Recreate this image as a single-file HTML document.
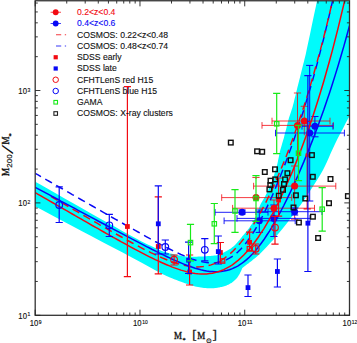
<!DOCTYPE html>
<html><head><meta charset="utf-8"><title>M200/M* vs M*</title>
<style>html,body{margin:0;padding:0;background:#fff}svg{display:block}</style></head>
<body>
<svg width="357" height="343" viewBox="0 0 357 343">
<defs><clipPath id="c"><rect x="35.20" y="0.75" width="314.30" height="314.55"/></clipPath></defs>
<rect width="357" height="343" fill="#fff"/>
<g clip-path="url(#c)">
<path d="M35.2,181.7 L40.3,184.6 L47.3,188.6 L55.6,193.3 L64.6,198.4 L73.6,203.5 L82.0,208.3 L90.2,212.9 L98.6,217.7 L107.1,222.5 L115.4,227.1 L123.1,231.4 L130.0,235.2 L136.1,238.5 L141.6,241.4 L146.6,243.9 L151.1,246.1 L155.2,248.1 L159.0,249.8 L162.4,251.2 L165.2,252.1 L167.6,252.8 L169.8,253.4 L171.9,253.8 L174.0,254.3 L176.1,254.8 L178.0,255.2 L179.8,255.6 L181.6,255.9 L183.3,256.2 L185.0,256.4 L186.7,256.6 L188.4,256.7 L190.1,256.7 L191.7,256.7 L193.3,256.7 L195.0,256.7 L196.7,256.7 L198.4,256.6 L200.1,256.6 L201.8,256.5 L203.4,256.4 L205.0,256.3 L206.5,256.2 L207.9,256.1 L209.2,256.0 L210.6,255.9 L211.8,255.8 L213.0,255.7 L214.1,255.6 L215.2,255.5 L216.1,255.4 L217.1,255.3 L218.0,255.1 L219.0,254.8 L220.0,254.4 L220.9,254.0 L221.9,253.5 L222.8,253.0 L223.8,252.5 L224.7,252.0 L225.6,251.5 L226.5,251.1 L227.4,250.6 L228.3,250.1 L229.1,249.6 L230.0,249.0 L230.9,248.4 L231.7,247.8 L232.6,247.1 L233.4,246.4 L234.2,245.7 L235.0,245.0 L235.7,244.3 L236.4,243.6 L237.0,242.8 L237.7,242.1 L238.3,241.3 L239.0,240.5 L239.7,239.7 L240.4,238.8 L241.1,238.0 L241.8,237.1 L242.5,236.1 L243.3,235.2 L244.1,234.2 L245.0,233.2 L245.8,232.2 L246.7,231.2 L247.6,230.1 L248.4,229.0 L249.2,227.9 L250.0,226.8 L250.8,225.6 L251.6,224.5 L252.4,223.3 L253.1,222.0 L253.8,220.7 L254.5,219.3 L255.1,217.8 L255.8,216.4 L256.4,214.9 L257.0,213.5 L257.6,212.0 L258.1,210.6 L258.6,209.1 L259.2,207.6 L259.7,206.2 L260.2,205.0 L260.7,203.9 L261.2,203.0 L261.7,202.2 L262.2,201.4 L262.7,200.5 L263.3,199.5 L263.9,198.4 L264.6,197.2 L265.3,195.9 L266.0,194.6 L266.7,193.3 L267.3,192.0 L267.9,190.7 L268.5,189.3 L269.1,187.9 L269.6,186.5 L270.1,185.2 L270.6,184.0 L271.1,182.9 L271.5,181.9 L271.9,180.9 L272.3,179.9 L272.6,179.0 L273.0,178.0 L273.4,177.0 L273.7,176.1 L274.0,175.2 L274.3,174.2 L274.6,173.2 L275.0,172.0 L275.4,170.7 L275.8,169.4 L276.2,168.0 L276.7,166.5 L277.1,164.9 L277.5,163.3 L277.9,161.6 L278.2,159.8 L278.6,157.9 L279.0,155.9 L279.4,154.0 L279.8,152.0 L280.3,150.0 L280.9,147.9 L281.5,145.9 L282.1,143.8 L282.7,141.8 L283.2,140.0 L283.7,138.4 L284.1,136.9 L284.4,135.5 L284.8,134.1 L285.2,132.6 L285.6,131.0 L286.1,129.2 L286.6,127.2 L287.1,125.1 L287.6,123.0 L288.1,121.0 L288.6,119.2 L289.1,117.5 L289.7,115.8 L290.2,114.2 L290.7,112.7 L291.2,111.3 L291.6,110.0 L291.9,109.0 L292.2,108.3 L292.4,107.6 L292.6,106.9 L292.8,106.0 L293.2,104.6 L293.7,102.7 L294.2,100.5 L294.8,98.1 L295.5,95.5 L296.1,92.7 L296.8,90.0 L297.5,87.1 L298.3,84.0 L299.1,80.8 L299.9,77.7 L300.6,74.7 L301.3,72.0 L301.9,69.6 L302.4,67.5 L302.9,65.5 L303.4,63.6 L303.9,61.8 L304.3,60.0 L304.6,58.7 L304.8,58.0 L305.0,57.3 L305.3,56.1 L305.8,53.9 L306.6,50.0 L308.0,43.5 L309.9,34.7 L311.9,24.9 L314.0,15.1 L315.8,6.8 L317.0,1.0 L349.5,1.0 L349.5,116.0 L347.9,119.1 L345.6,123.3 L343.0,128.4 L340.2,133.8 L337.4,139.1 L335.0,144.0 L332.9,148.5 L330.8,153.0 L328.9,157.5 L326.9,161.9 L325.0,166.0 L323.0,170.0 L320.9,173.8 L318.6,177.5 L316.4,181.1 L314.2,184.4 L312.3,187.4 L310.6,190.0 L309.3,192.1 L308.3,193.6 L307.6,194.8 L306.9,196.0 L306.0,197.2 L305.0,198.7 L303.7,200.6 L302.3,202.6 L300.8,204.7 L299.2,206.8 L297.7,209.0 L296.2,211.0 L294.7,213.0 L293.3,214.9 L291.8,216.8 L290.4,218.7 L288.9,220.6 L287.5,222.4 L286.1,224.2 L284.7,226.0 L283.3,227.8 L281.9,229.5 L280.4,231.3 L279.0,233.0 L277.5,234.7 L276.1,236.4 L274.6,238.2 L273.1,239.9 L271.6,241.6 L270.0,243.3 L268.4,245.1 L266.6,246.9 L264.9,248.8 L263.2,250.6 L261.5,252.3 L260.0,253.8 L258.6,255.1 L257.3,256.2 L256.1,257.3 L255.0,258.2 L253.8,259.1 L252.7,260.0 L251.6,260.9 L250.5,261.8 L249.4,262.6 L248.4,263.4 L247.4,264.1 L246.5,264.8 L245.6,265.5 L244.8,266.1 L244.0,266.7 L243.3,267.2 L242.7,267.7 L242.3,268.0 L242.3,268.0 L242.1,268.4 L241.9,268.9 L241.7,269.5 L241.4,270.2 L241.1,270.9 L240.8,271.5 L240.5,272.1 L240.2,272.7 L240.0,273.2 L239.7,273.8 L239.3,274.4 L239.0,275.0 L238.6,275.6 L238.2,276.2 L237.8,276.8 L237.4,277.4 L237.0,277.9 L236.5,278.5 L236.0,279.0 L235.5,279.6 L235.0,280.1 L234.4,280.6 L233.9,281.1 L233.3,281.6 L232.7,282.0 L232.1,282.5 L231.5,282.9 L230.8,283.3 L230.2,283.6 L229.5,284.0 L228.8,284.4 L228.1,284.7 L227.3,285.1 L226.6,285.4 L225.8,285.7 L225.0,286.0 L224.2,286.3 L223.4,286.5 L222.5,286.7 L221.6,286.9 L220.8,287.1 L220.0,287.3 L219.2,287.5 L218.5,287.6 L217.7,287.7 L217.0,287.8 L216.2,287.9 L215.5,288.0 L214.8,288.1 L214.2,288.2 L213.6,288.2 L213.0,288.3 L212.2,288.3 L211.2,288.3 L210.0,288.3 L208.6,288.2 L207.1,288.2 L205.6,288.1 L204.0,288.0 L202.5,287.8 L201.0,287.6 L199.6,287.3 L198.1,287.0 L196.6,286.7 L195.2,286.4 L193.7,286.0 L192.3,285.6 L191.0,285.2 L189.6,284.8 L188.2,284.3 L186.7,283.8 L185.0,283.2 L183.1,282.5 L181.0,281.8 L178.8,280.9 L176.5,280.1 L174.2,279.2 L172.0,278.3 L170.0,277.5 L168.3,276.7 L166.5,276.0 L164.5,275.1 L162.1,273.9 L159.0,272.3 L155.3,270.3 L151.2,268.1 L146.7,265.6 L141.7,262.8 L136.1,259.7 L130.0,256.4 L123.1,252.7 L115.4,248.7 L107.1,244.4 L98.6,239.9 L90.2,235.5 L82.0,231.2 L73.6,226.8 L64.6,222.0 L55.6,217.2 L47.3,212.8 L40.3,209.1 L35.2,206.4 Z" fill="#00fbfb"/>
<path d="M221.70,197.60 H291.70 M221.70,194.30 v6.60 M291.70,194.30 v6.60" stroke="#f20a12" stroke-width="1.00" fill="none" opacity="0.80"/>
<path d="M256.00,177.50 V179.00 M252.40,177.50 h7.20" stroke="#f20a12" stroke-width="1.00" fill="none" opacity="0.80"/>
<path d="M232.60,208.20 H314.50 M232.60,204.90 v6.60 M314.50,204.90 v6.60" stroke="#f20a12" stroke-width="1.00" fill="none" opacity="0.80"/>
<path d="M274.00,200.00 V216.00 M270.40,200.00 h7.20 M270.40,216.00 h7.20" stroke="#f20a12" stroke-width="1.00" fill="none" opacity="0.80"/>
<path d="M253.60,186.10 H335.80 M253.60,182.80 v6.60 M335.80,182.80 v6.60" stroke="#f20a12" stroke-width="1.00" fill="none" opacity="0.80"/>
<path d="M294.60,166.00 V219.20 M291.00,166.00 h7.20 M291.00,219.20 h7.20" stroke="#f20a12" stroke-width="1.00" fill="none" opacity="0.80"/>
<path d="M262.00,125.40 H333.30 M262.00,122.10 v6.60 M333.30,122.10 v6.60" stroke="#f20a12" stroke-width="1.00" fill="none" opacity="0.80"/>
<path d="M297.50,93.00 V158.30 M293.90,93.00 h7.20" stroke="#f20a12" stroke-width="1.00" fill="none" opacity="0.80"/>
<path d="M272.00,121.00 H330.00 M272.00,117.70 v6.60 M330.00,117.70 v6.60" stroke="#f20a12" stroke-width="1.00" fill="none" opacity="0.80"/>
<path d="M304.30,106.30 V135.20 M300.70,106.30 h7.20" stroke="#f20a12" stroke-width="1.00" fill="none" opacity="0.80"/>
<path d="M215.10,212.30 H268.00 M215.10,209.00 v6.60 M268.00,209.00 v6.60" stroke="#0808f6" stroke-width="1.00" fill="none" opacity="0.90"/>
<path d="M242.10,210.00 V214.00 M238.50,210.00 h7.20 M238.50,214.00 h7.20" stroke="#0808f6" stroke-width="1.00" fill="none"/>
<path d="M224.10,220.80 H295.20 M224.10,217.50 v6.60 M295.20,217.50 v6.60" stroke="#0808f6" stroke-width="1.00" fill="none" opacity="0.90"/>
<path d="M259.30,210.00 V232.40 M255.70,210.00 h7.20 M255.70,232.40 h7.20" stroke="#0808f6" stroke-width="1.00" fill="none"/>
<path d="M237.00,218.40 H310.00 M237.00,215.10 v6.60 M310.00,215.10 v6.60" stroke="#0808f6" stroke-width="1.00" fill="none" opacity="0.90"/>
<path d="M273.90,205.00 V236.50 M270.30,205.00 h7.20 M270.30,236.50 h7.20" stroke="#0808f6" stroke-width="1.00" fill="none"/>
<path d="M256.00,211.70 H322.00 M256.00,208.40 v6.60 M322.00,208.40 v6.60" stroke="#0808f6" stroke-width="1.00" fill="none" opacity="0.90"/>
<path d="M294.60,208.00 V215.00 M291.00,208.00 h7.20 M291.00,215.00 h7.20" stroke="#0808f6" stroke-width="1.00" fill="none"/>
<path d="M275.50,133.00 H344.40 M275.50,129.70 v6.60 M344.40,129.70 v6.60" stroke="#0808f6" stroke-width="1.00" fill="none" opacity="0.90"/>
<path d="M309.70,65.40 V201.00 M306.10,65.40 h7.20 M306.10,201.00 h7.20" stroke="#0808f6" stroke-width="1.00" fill="none"/>
<path d="M302.00,126.30 H333.00 M302.00,123.00 v6.60 M333.00,123.00 v6.60" stroke="#0808f6" stroke-width="1.00" fill="none" opacity="0.90"/>
<path d="M314.90,116.50 V136.80 M311.30,116.50 h7.20 M311.30,136.80 h7.20" stroke="#0808f6" stroke-width="1.00" fill="none"/>
<path d="M35.2,173.3 L38.1,174.9 L40.9,176.6 L43.8,178.2 L46.6,179.9 L49.5,181.5 L52.3,183.1 L55.2,184.8 L58.1,186.4 L60.9,188.0 L63.8,189.7 L66.6,191.3 L69.5,192.9 L72.3,194.6 L75.2,196.2 L78.1,197.9 L80.9,199.5 L83.8,201.1 L86.6,202.8 L89.5,204.4 L92.3,206.0 L95.2,207.7 L98.1,209.3 L100.9,210.9 L103.8,212.6 L106.6,214.2 L109.5,215.8 L112.3,217.5 L115.2,219.1 L118.1,220.7 L120.9,222.3 L123.8,224.0 L126.6,225.6 L129.5,227.2 L132.3,228.8 L135.2,230.4 L138.1,232.0 L140.9,233.6 L143.8,235.2 L146.6,236.8 L149.5,238.4 L152.3,239.9 L155.2,241.5 L158.1,243.0 L160.9,244.6 L163.8,246.1 L166.6,247.5 L169.5,249.0 L172.3,250.4 L175.2,251.8 L178.1,253.2 L180.9,254.5 L183.8,255.7 L186.6,256.9 L189.5,258.0 L192.4,259.1 L195.2,260.0 L198.1,260.8 L200.9,261.6 L203.8,262.1 L206.6,262.6 L209.5,262.8 L212.4,262.9 L215.2,262.8 L218.1,262.4 L220.9,261.8 L223.8,260.9 L226.6,259.7 L229.5,258.2 L232.4,256.4 L235.2,254.3 L238.1,251.8 L240.9,249.0 L243.8,245.8 L246.6,242.2 L249.5,238.3 L252.4,234.1 L255.2,229.5 L258.1,224.5 L260.9,219.3 L263.8,213.7 L266.6,207.9 L269.5,201.8 L272.4,195.4 L275.2,188.7 L278.1,181.9 L280.9,174.8 L283.8,167.4 L286.6,159.9 L289.5,152.1 L292.4,144.1 L295.2,135.9 L298.1,127.4 L300.9,118.7 L303.8,109.7 L306.6,100.4 L309.5,90.8 L312.4,81.0 L315.2,70.8 L318.1,60.2 L320.9,49.3 L323.8,38.1 L326.6,26.4 L329.5,14.2 L332.4,1.7 L335.2,-11.4 L338.1,-24.9 L340.9,-39.0 L343.8,-53.6 L346.6,-68.8 L349.5,-84.6" fill="none" stroke="#0808f6" stroke-width="1.45" stroke-dasharray="7.7,4.93" stroke-dashoffset="1"/>
<path d="M50.9,196.5 L53.6,198.1 L56.3,199.6 L59.1,201.2 L61.8,202.8 L64.5,204.4 L67.2,205.9 L69.9,207.5 L72.6,209.1 L75.3,210.7 L78.1,212.2 L80.8,213.8 L83.5,215.4 L86.2,216.9 L88.9,218.5 L91.6,220.1 L94.3,221.6 L97.1,223.2 L99.8,224.8 L102.5,226.3 L105.2,227.9 L107.9,229.4 L110.6,230.9 L113.3,232.5 L116.1,234.0 L118.8,235.5 L121.5,237.0 L124.2,238.6 L126.9,240.1 L129.6,241.5 L132.3,243.0 L135.1,244.5 L137.8,245.9 L140.5,247.4 L143.2,248.8 L145.9,250.2 L148.6,251.5 L151.3,252.9 L154.1,254.2 L156.8,255.4 L159.5,256.7 L162.2,257.9 L164.9,259.0 L167.6,260.1 L170.3,261.1 L173.1,262.1 L175.8,263.0 L178.5,263.9 L181.2,264.6 L183.9,265.3 L186.6,265.8 L189.3,266.3 L192.1,266.6 L194.8,266.8 L197.5,266.9 L200.2,266.8 L202.9,266.6 L205.6,266.2 L208.4,265.6 L211.1,264.9 L213.8,263.9 L216.5,262.8 L219.2,261.4 L221.9,259.8 L224.6,258.0 L227.4,256.0 L230.1,253.8 L232.8,251.3 L235.5,248.5 L238.2,245.6 L240.9,242.4 L243.6,239.0 L246.4,235.3 L249.1,231.4 L251.8,227.3 L254.5,222.9 L257.2,218.3 L259.9,213.5 L262.6,208.5 L265.4,203.3 L268.1,197.8 L270.8,192.2 L273.5,186.4 L276.2,180.3 L278.9,174.0 L281.6,167.6 L284.4,160.9 L287.1,154.0 L289.8,146.9 L292.5,139.6 L295.2,132.0 L297.9,124.2 L300.6,116.2 L303.4,107.9 L306.1,99.4 L308.8,90.6 L311.5,81.6 L314.2,72.2 L316.9,62.6 L319.6,52.6 L322.4,42.4 L325.1,31.7 L327.8,20.8 L330.5,9.5 L333.2,-2.2 L335.9,-14.3 L338.6,-26.8 L341.4,-39.8 L344.1,-53.1 L346.8,-67.0 L349.5,-81.3" fill="none" stroke="#f20a12" stroke-width="1.45" stroke-dasharray="7.7,4.8"/>
<path d="M35.2,187.3 L38.1,188.8 L40.9,190.3 L43.8,191.9 L46.6,193.4 L49.5,194.9 L52.3,196.5 L55.2,198.0 L58.1,199.5 L60.9,201.1 L63.8,202.6 L66.6,204.1 L69.5,205.7 L72.3,207.2 L75.2,208.7 L78.1,210.3 L80.9,211.8 L83.8,213.3 L86.6,214.8 L89.5,216.4 L92.3,217.9 L95.2,219.4 L98.1,221.0 L100.9,222.5 L103.8,224.0 L106.6,225.5 L109.5,227.1 L112.3,228.6 L115.2,230.1 L118.1,231.6 L120.9,233.1 L123.8,234.6 L126.6,236.1 L129.5,237.7 L132.3,239.2 L135.2,240.6 L138.1,242.1 L140.9,243.6 L143.8,245.1 L146.6,246.6 L149.5,248.0 L152.3,249.5 L155.2,250.9 L158.1,252.3 L160.9,253.8 L163.8,255.1 L166.6,256.5 L169.5,257.9 L172.3,259.2 L175.2,260.5 L178.1,261.7 L180.9,262.9 L183.8,264.1 L186.6,265.2 L189.5,266.3 L192.4,267.3 L195.2,268.2 L198.1,269.0 L200.9,269.8 L203.8,270.4 L206.6,271.0 L209.5,271.4 L212.4,271.6 L215.2,271.8 L218.1,271.7 L220.9,271.5 L223.8,271.1 L226.6,270.5 L229.5,269.7 L232.4,268.6 L235.2,267.3 L238.1,265.8 L240.9,264.0 L243.8,261.9 L246.6,259.6 L249.5,257.0 L252.4,254.1 L255.2,250.9 L258.1,247.4 L260.9,243.7 L263.8,239.8 L266.6,235.5 L269.5,231.1 L272.4,226.4 L275.2,221.5 L278.1,216.3 L280.9,211.0 L283.8,205.5 L286.6,199.8 L289.5,193.9 L292.4,187.8 L295.2,181.6 L298.1,175.2 L300.9,168.6 L303.8,161.9 L306.6,155.0 L309.5,147.9 L312.4,140.6 L315.2,133.2 L318.1,125.6 L320.9,117.7 L323.8,109.7 L326.6,101.4 L329.5,92.9 L332.4,84.1 L335.2,75.1 L338.1,65.8 L340.9,56.3 L343.8,46.4 L346.6,36.2 L349.5,25.7" fill="none" stroke="#0808f6" stroke-width="1.5"/>
<path d="M35.2,192.6 L38.1,194.3 L40.9,195.9 L43.8,197.6 L46.6,199.2 L49.5,200.9 L52.3,202.5 L55.2,204.2 L58.1,205.8 L60.9,207.4 L63.8,209.1 L66.6,210.7 L69.5,212.4 L72.3,214.0 L75.2,215.7 L78.1,217.3 L80.9,218.9 L83.8,220.6 L86.6,222.2 L89.5,223.8 L92.3,225.5 L95.2,227.1 L98.1,228.7 L100.9,230.3 L103.8,232.0 L106.6,233.6 L109.5,235.2 L112.3,236.8 L115.2,238.4 L118.1,240.0 L120.9,241.6 L123.8,243.1 L126.6,244.7 L129.5,246.3 L132.3,247.8 L135.2,249.4 L138.1,250.9 L140.9,252.4 L143.8,253.9 L146.6,255.3 L149.5,256.8 L152.3,258.2 L155.2,259.6 L158.1,260.9 L160.9,262.2 L163.8,263.5 L166.6,264.7 L169.5,265.9 L172.3,267.1 L175.2,268.1 L178.1,269.1 L180.9,270.1 L183.8,270.9 L186.6,271.7 L189.5,272.3 L192.4,272.9 L195.2,273.4 L198.1,273.7 L200.9,273.9 L203.8,273.9 L206.6,273.9 L209.5,273.6 L212.4,273.2 L215.2,272.6 L218.1,271.8 L220.9,270.8 L223.8,269.6 L226.6,268.2 L229.5,266.6 L232.4,264.8 L235.2,262.7 L238.1,260.4 L240.9,257.8 L243.8,255.0 L246.6,252.0 L249.5,248.7 L252.4,245.2 L255.2,241.5 L258.1,237.5 L260.9,233.2 L263.8,228.8 L266.6,224.1 L269.5,219.1 L272.4,214.0 L275.2,208.6 L278.1,203.0 L280.9,197.1 L283.8,191.1 L286.6,184.8 L289.5,178.3 L292.4,171.6 L295.2,164.6 L298.1,157.4 L300.9,150.0 L303.8,142.3 L306.6,134.4 L309.5,126.2 L312.4,117.8 L315.2,109.1 L318.1,100.1 L320.9,90.8 L323.8,81.2 L326.6,71.2 L329.5,61.0 L332.4,50.4 L335.2,39.4 L338.1,28.1 L340.9,16.4 L343.8,4.3 L346.6,-8.3 L349.5,-21.2" fill="none" stroke="#f20a12" stroke-width="1.5"/>
<circle cx="256.00" cy="197.60" r="3.50" fill="#f20a12"/>
<circle cx="274.00" cy="208.20" r="3.50" fill="#f20a12"/>
<circle cx="294.60" cy="186.10" r="3.50" fill="#f20a12"/>
<circle cx="297.50" cy="125.40" r="3.50" fill="#f20a12"/>
<circle cx="304.30" cy="121.00" r="3.50" fill="#f20a12"/>
<circle cx="242.10" cy="212.30" r="3.50" fill="#0808f6"/>
<circle cx="259.30" cy="220.80" r="3.50" fill="#0808f6"/>
<circle cx="273.90" cy="218.40" r="3.50" fill="#0808f6"/>
<circle cx="294.60" cy="211.70" r="3.50" fill="#0808f6"/>
<circle cx="309.70" cy="133.00" r="3.50" fill="#0808f6"/>
<circle cx="314.90" cy="126.30" r="3.50" fill="#0808f6"/>
<path d="M127.40,86.70 V276.60 M123.80,86.70 h7.20 M123.80,276.60 h7.20" stroke="#f20a12" stroke-width="1.20" fill="none"/>
<rect x="125.00" y="224.10" width="4.80" height="4.80" fill="#f20a12"/>
<path d="M158.30,196.80 V273.80 M154.70,196.80 h7.20 M154.70,273.80 h7.20" stroke="#f20a12" stroke-width="1.20" fill="none"/>
<rect x="155.90" y="244.10" width="4.80" height="4.80" fill="#f20a12"/>
<path d="M189.60,255.00 V285.00 M186.00,255.00 h7.20 M186.00,285.00 h7.20" stroke="#f20a12" stroke-width="1.20" fill="none"/>
<rect x="187.20" y="269.60" width="4.80" height="4.80" fill="#f20a12"/>
<path d="M220.40,242.50 V262.00 M216.80,242.50 h7.20 M216.80,262.00 h7.20" stroke="#f20a12" stroke-width="1.20" fill="none"/>
<rect x="218.00" y="250.10" width="4.80" height="4.80" fill="#f20a12"/>
<path d="M249.60,232.20 V251.00 M246.00,232.20 h7.20 M246.00,251.00 h7.20" stroke="#f20a12" stroke-width="1.20" fill="none"/>
<rect x="247.20" y="239.90" width="4.80" height="4.80" fill="#f20a12"/>
<path d="M278.60,178.00 V216.20 M275.00,178.00 h7.20 M275.00,216.20 h7.20" stroke="#f20a12" stroke-width="1.20" fill="none"/>
<rect x="276.20" y="197.60" width="4.80" height="4.80" fill="#f20a12"/>
<path d="M307.20,121.50 V208.90 M303.60,121.50 h7.20 M303.60,208.90 h7.20" stroke="#f20a12" stroke-width="1.20" fill="none"/>
<rect x="305.50" y="153.50" width="3.40" height="3.40" fill="#f20a12"/>
<path d="M158.30,185.80 V254.00 M154.70,185.80 h7.20 M154.70,254.00 h7.20" stroke="#0808f6" stroke-width="1.20" fill="none"/>
<rect x="155.90" y="221.40" width="4.80" height="4.80" fill="#0808f6"/>
<path d="M188.60,242.20 V273.50 M185.00,242.20 h7.20 M185.00,273.50 h7.20" stroke="#0808f6" stroke-width="1.20" fill="none"/>
<rect x="186.20" y="257.80" width="4.80" height="4.80" fill="#0808f6"/>
<path d="M218.30,236.00 V264.00 M214.70,236.00 h7.20 M214.70,264.00 h7.20" stroke="#0808f6" stroke-width="1.20" fill="none"/>
<rect x="215.90" y="249.20" width="4.80" height="4.80" fill="#0808f6"/>
<path d="M248.00,275.00 V296.50 M244.40,275.00 h7.20 M244.40,296.50 h7.20" stroke="#0808f6" stroke-width="1.20" fill="none"/>
<rect x="245.60" y="285.20" width="4.80" height="4.80" fill="#0808f6"/>
<path d="M277.40,259.00 V287.00 M273.80,259.00 h7.20 M273.80,287.00 h7.20" stroke="#0808f6" stroke-width="1.20" fill="none"/>
<rect x="275.00" y="269.10" width="4.80" height="4.80" fill="#0808f6"/>
<path d="M307.90,75.60 V271.50 M304.30,75.60 h7.20 M304.30,271.50 h7.20" stroke="#0808f6" stroke-width="1.20" fill="none"/>
<rect x="305.50" y="220.80" width="4.80" height="4.80" fill="#0808f6"/>
<path d="M174.10,255.00 V265.00 M170.50,255.00 h7.20 M170.50,265.00 h7.20" stroke="#f20a12" stroke-width="1.20" fill="none"/>
<circle cx="174.10" cy="259.80" r="3.35" fill="none" stroke="#f20a12" stroke-width="1.15"/>
<path d="M255.70,244.00 V254.00 M252.10,244.00 h7.20 M252.10,254.00 h7.20" stroke="#f20a12" stroke-width="1.20" fill="none"/>
<circle cx="255.70" cy="248.80" r="3.35" fill="none" stroke="#f20a12" stroke-width="1.15"/>
<path d="M275.00,216.50 V244.20 M271.40,216.50 h7.20 M271.40,244.20 h7.20" stroke="#f20a12" stroke-width="1.20" fill="none"/>
<circle cx="275.00" cy="227.60" r="3.35" fill="none" stroke="#f20a12" stroke-width="1.15"/>
<rect x="220.40" y="258.80" width="4.40" height="4.40" fill="none" stroke="#f20a12" stroke-width="1.20"/>
<rect x="247.20" y="246.50" width="4.40" height="4.40" fill="none" stroke="#f20a12" stroke-width="1.20"/>
<path d="M59.20,186.90 V222.50 M55.60,186.90 h7.20 M55.60,222.50 h7.20" stroke="#0808f6" stroke-width="1.20" fill="none"/>
<circle cx="59.20" cy="205.00" r="3.35" fill="none" stroke="#0808f6" stroke-width="1.15"/>
<path d="M109.30,214.30 V236.50 M105.70,214.30 h7.20 M105.70,236.50 h7.20" stroke="#0808f6" stroke-width="1.20" fill="none"/>
<circle cx="109.30" cy="225.40" r="3.35" fill="none" stroke="#0808f6" stroke-width="1.15"/>
<path d="M165.30,240.00 V254.00 M161.70,240.00 h7.20 M161.70,254.00 h7.20" stroke="#0808f6" stroke-width="1.20" fill="none"/>
<circle cx="165.30" cy="247.00" r="3.35" fill="none" stroke="#0808f6" stroke-width="1.15"/>
<path d="M204.80,238.70 V260.80 M201.20,238.70 h7.20 M201.20,260.80 h7.20" stroke="#0808f6" stroke-width="1.20" fill="none"/>
<circle cx="204.80" cy="249.80" r="3.35" fill="none" stroke="#0808f6" stroke-width="1.15"/>
<path d="M190.50,224.40 V260.80 M186.90,224.40 h7.20 M186.90,260.80 h7.20" stroke="#18ea18" stroke-width="1.20" fill="none"/>
<rect x="188.30" y="240.40" width="4.40" height="4.40" fill="none" stroke="#18ea18" stroke-width="1.20"/>
<path d="M214.30,203.50 V243.60 M210.70,203.50 h7.20 M210.70,243.60 h7.20" stroke="#18ea18" stroke-width="1.20" fill="none"/>
<rect x="212.10" y="221.60" width="4.40" height="4.40" fill="none" stroke="#18ea18" stroke-width="1.20"/>
<path d="M235.00,189.60 V232.40 M231.40,189.60 h7.20 M231.40,232.40 h7.20" stroke="#18ea18" stroke-width="1.20" fill="none"/>
<rect x="232.80" y="208.80" width="4.40" height="4.40" fill="none" stroke="#18ea18" stroke-width="1.20"/>
<path d="M256.00,175.60 V221.30 M252.40,175.60 h7.20 M252.40,221.30 h7.20" stroke="#18ea18" stroke-width="1.20" fill="none"/>
<rect x="253.80" y="196.30" width="4.40" height="4.40" fill="none" stroke="#18ea18" stroke-width="1.20"/>
<path d="M276.70,93.40 V153.60 M273.10,93.40 h7.20 M273.10,153.60 h7.20" stroke="#18ea18" stroke-width="1.20" fill="none"/>
<rect x="274.50" y="121.60" width="4.40" height="4.40" fill="none" stroke="#18ea18" stroke-width="1.20"/>
<path d="M298.50,125.40 V180.70 M294.90,125.40 h7.20 M294.90,180.70 h7.20" stroke="#18ea18" stroke-width="1.20" fill="none"/>
<rect x="296.30" y="151.00" width="4.40" height="4.40" fill="none" stroke="#18ea18" stroke-width="1.20"/>
<path d="M322.20,187.70 V231.10 M318.60,187.70 h7.20 M318.60,231.10 h7.20" stroke="#18ea18" stroke-width="1.20" fill="none"/>
<rect x="320.00" y="207.00" width="4.40" height="4.40" fill="none" stroke="#18ea18" stroke-width="1.20"/>
<rect x="262.50" y="169.70" width="4.60" height="4.60" fill="none" stroke="#111" stroke-width="1.40"/>
<rect x="272.70" y="167.00" width="4.60" height="4.60" fill="none" stroke="#111" stroke-width="1.40"/>
<rect x="285.10" y="170.90" width="4.60" height="4.60" fill="none" stroke="#111" stroke-width="1.40"/>
<rect x="310.50" y="174.50" width="4.60" height="4.60" fill="none" stroke="#111" stroke-width="1.40"/>
<rect x="272.90" y="177.10" width="4.60" height="4.60" fill="none" stroke="#111" stroke-width="1.40"/>
<rect x="268.20" y="178.40" width="4.60" height="4.60" fill="none" stroke="#111" stroke-width="1.40"/>
<rect x="282.80" y="177.10" width="4.60" height="4.60" fill="none" stroke="#111" stroke-width="1.40"/>
<rect x="268.00" y="182.80" width="4.60" height="4.60" fill="none" stroke="#111" stroke-width="1.40"/>
<rect x="281.70" y="181.70" width="4.60" height="4.60" fill="none" stroke="#111" stroke-width="1.40"/>
<rect x="267.10" y="187.10" width="4.60" height="4.60" fill="none" stroke="#111" stroke-width="1.40"/>
<rect x="280.70" y="187.50" width="4.60" height="4.60" fill="none" stroke="#111" stroke-width="1.40"/>
<rect x="276.50" y="193.40" width="4.60" height="4.60" fill="none" stroke="#111" stroke-width="1.40"/>
<rect x="293.60" y="193.00" width="4.60" height="4.60" fill="none" stroke="#111" stroke-width="1.40"/>
<rect x="303.00" y="196.20" width="4.60" height="4.60" fill="none" stroke="#111" stroke-width="1.40"/>
<rect x="291.20" y="205.20" width="4.60" height="4.60" fill="none" stroke="#111" stroke-width="1.40"/>
<rect x="310.60" y="214.40" width="4.60" height="4.60" fill="none" stroke="#111" stroke-width="1.40"/>
<rect x="296.60" y="220.20" width="4.60" height="4.60" fill="none" stroke="#111" stroke-width="1.40"/>
<rect x="315.80" y="235.70" width="4.60" height="4.60" fill="none" stroke="#111" stroke-width="1.40"/>
<rect x="254.80" y="149.00" width="4.60" height="4.60" fill="none" stroke="#111" stroke-width="1.40"/>
<rect x="259.90" y="149.50" width="4.60" height="4.60" fill="none" stroke="#111" stroke-width="1.40"/>
<rect x="309.60" y="152.80" width="4.60" height="4.60" fill="none" stroke="#111" stroke-width="1.40"/>
<rect x="288.30" y="157.90" width="4.60" height="4.60" fill="none" stroke="#111" stroke-width="1.40"/>
<rect x="228.50" y="140.30" width="4.60" height="4.60" fill="none" stroke="#111" stroke-width="1.40"/>
<rect x="328.20" y="176.70" width="4.60" height="4.60" fill="none" stroke="#111" stroke-width="1.40"/>
<rect x="326.70" y="200.90" width="4.60" height="4.60" fill="none" stroke="#111" stroke-width="1.40"/>
<rect x="345.60" y="193.80" width="4.60" height="4.60" fill="none" stroke="#111" stroke-width="1.40"/>
</g>
<rect x="35.20" y="0.75" width="314.30" height="314.55" fill="none" stroke="#333" stroke-width="1.3"/>
<path d="M35.20,315.30 v-5.60 M35.20,0.75 v5.60 M66.74,315.30 v-2.80 M66.74,0.75 v2.80 M85.19,315.30 v-2.80 M85.19,0.75 v2.80 M98.28,315.30 v-2.80 M98.28,0.75 v2.80 M108.43,315.30 v-2.80 M108.43,0.75 v2.80 M116.72,315.30 v-2.80 M116.72,0.75 v2.80 M123.74,315.30 v-2.80 M123.74,0.75 v2.80 M129.81,315.30 v-2.80 M129.81,0.75 v2.80 M135.17,315.30 v-2.80 M135.17,0.75 v2.80 M139.97,315.30 v-5.60 M139.97,0.75 v5.60 M171.50,315.30 v-2.80 M171.50,0.75 v2.80 M189.95,315.30 v-2.80 M189.95,0.75 v2.80 M203.04,315.30 v-2.80 M203.04,0.75 v2.80 M213.20,315.30 v-2.80 M213.20,0.75 v2.80 M221.49,315.30 v-2.80 M221.49,0.75 v2.80 M228.50,315.30 v-2.80 M228.50,0.75 v2.80 M234.58,315.30 v-2.80 M234.58,0.75 v2.80 M239.94,315.30 v-2.80 M239.94,0.75 v2.80 M244.73,315.30 v-5.60 M244.73,0.75 v5.60 M276.27,315.30 v-2.80 M276.27,0.75 v2.80 M294.72,315.30 v-2.80 M294.72,0.75 v2.80 M307.81,315.30 v-2.80 M307.81,0.75 v2.80 M317.96,315.30 v-2.80 M317.96,0.75 v2.80 M326.26,315.30 v-2.80 M326.26,0.75 v2.80 M333.27,315.30 v-2.80 M333.27,0.75 v2.80 M339.35,315.30 v-2.80 M339.35,0.75 v2.80 M344.71,315.30 v-2.80 M344.71,0.75 v2.80 M349.50,315.30 v-5.60 M349.50,0.75 v5.60 M35.20,315.30 h5.20 M349.50,315.30 h-5.20 M35.20,281.46 h2.60 M349.50,281.46 h-2.60 M35.20,261.67 h2.60 M349.50,261.67 h-2.60 M35.20,247.63 h2.60 M349.50,247.63 h-2.60 M35.20,236.74 h2.60 M349.50,236.74 h-2.60 M35.20,227.84 h2.60 M349.50,227.84 h-2.60 M35.20,220.31 h2.60 M349.50,220.31 h-2.60 M35.20,213.79 h2.60 M349.50,213.79 h-2.60 M35.20,208.04 h2.60 M349.50,208.04 h-2.60 M35.20,202.90 h5.20 M349.50,202.90 h-5.20 M35.20,169.06 h2.60 M349.50,169.06 h-2.60 M35.20,149.27 h2.60 M349.50,149.27 h-2.60 M35.20,135.23 h2.60 M349.50,135.23 h-2.60 M35.20,124.34 h2.60 M349.50,124.34 h-2.60 M35.20,115.44 h2.60 M349.50,115.44 h-2.60 M35.20,107.91 h2.60 M349.50,107.91 h-2.60 M35.20,101.39 h2.60 M349.50,101.39 h-2.60 M35.20,95.64 h2.60 M349.50,95.64 h-2.60 M35.20,90.50 h5.20 M349.50,90.50 h-5.20 M35.20,56.66 h2.60 M349.50,56.66 h-2.60 M35.20,36.87 h2.60 M349.50,36.87 h-2.60 M35.20,22.83 h2.60 M349.50,22.83 h-2.60 M35.20,11.94 h2.60 M349.50,11.94 h-2.60 M35.20,3.04 h2.60 M349.50,3.04 h-2.60" stroke="#222" stroke-width="0.9" fill="none"/>
<g font-family="'Liberation Serif', serif" fill="#111">
<text x="29.68" y="326.20" font-family="'Liberation Sans', sans-serif" font-size="8.8" textLength="8.6" lengthAdjust="spacingAndGlyphs" stroke="#111" stroke-width="0.15">10</text><text x="38.77" y="323.80" font-family="'Liberation Sans', sans-serif" font-size="5.6" textLength="2.8" lengthAdjust="spacingAndGlyphs" stroke="#111" stroke-width="0.15">9</text>
<text x="133.07" y="326.20" font-family="'Liberation Sans', sans-serif" font-size="8.8" textLength="8.6" lengthAdjust="spacingAndGlyphs" stroke="#111" stroke-width="0.15">10</text><text x="142.17" y="323.80" font-family="'Liberation Sans', sans-serif" font-size="5.6" textLength="5.5" lengthAdjust="spacingAndGlyphs" stroke="#111" stroke-width="0.15">10</text>
<text x="237.83" y="326.20" font-family="'Liberation Sans', sans-serif" font-size="8.8" textLength="8.6" lengthAdjust="spacingAndGlyphs" stroke="#111" stroke-width="0.15">10</text><text x="246.93" y="323.80" font-family="'Liberation Sans', sans-serif" font-size="5.6" textLength="5.5" lengthAdjust="spacingAndGlyphs" stroke="#111" stroke-width="0.15">11</text>
<text x="342.60" y="326.20" font-family="'Liberation Sans', sans-serif" font-size="8.8" textLength="8.6" lengthAdjust="spacingAndGlyphs" stroke="#111" stroke-width="0.15">10</text><text x="351.70" y="323.80" font-family="'Liberation Sans', sans-serif" font-size="5.6" textLength="5.5" lengthAdjust="spacingAndGlyphs" stroke="#111" stroke-width="0.15">12</text>
<text x="18.35" y="318.80" font-family="'Liberation Sans', sans-serif" font-size="8.8" textLength="8.6" lengthAdjust="spacingAndGlyphs" stroke="#111" stroke-width="0.15">10</text><text x="27.45" y="316.40" font-family="'Liberation Sans', sans-serif" font-size="5.6" textLength="2.8" lengthAdjust="spacingAndGlyphs" stroke="#111" stroke-width="0.15">1</text>
<text x="18.35" y="206.40" font-family="'Liberation Sans', sans-serif" font-size="8.8" textLength="8.6" lengthAdjust="spacingAndGlyphs" stroke="#111" stroke-width="0.15">10</text><text x="27.45" y="204.00" font-family="'Liberation Sans', sans-serif" font-size="5.6" textLength="2.8" lengthAdjust="spacingAndGlyphs" stroke="#111" stroke-width="0.15">2</text>
<text x="18.35" y="94.00" font-family="'Liberation Sans', sans-serif" font-size="8.8" textLength="8.6" lengthAdjust="spacingAndGlyphs" stroke="#111" stroke-width="0.15">10</text><text x="27.45" y="91.60" font-family="'Liberation Sans', sans-serif" font-size="5.6" textLength="2.8" lengthAdjust="spacingAndGlyphs" stroke="#111" stroke-width="0.15">3</text>
<text x="174" y="338.5" font-size="10.4" stroke="#111" stroke-width="0.35" textLength="8" lengthAdjust="spacingAndGlyphs">M</text>
<text x="182.6" y="342.4" font-size="6.4" stroke="#111" stroke-width="0.3">*</text>
<text x="192.2" y="339.3" font-size="13" stroke="#111" stroke-width="0.3">[</text>
<text x="197.3" y="338.5" font-size="10.4" stroke="#111" stroke-width="0.35" textLength="8" lengthAdjust="spacingAndGlyphs">M</text>
<text x="205.8" y="342.6" font-size="7" textLength="5.9" lengthAdjust="spacingAndGlyphs" stroke="#111" stroke-width="0.25">⊙</text>
<text x="212.4" y="339.3" font-size="13" stroke="#111" stroke-width="0.3">]</text>
<g transform="translate(8.7,176) rotate(-90)">
<text x="0" y="0" font-size="10.4" stroke="#111" stroke-width="0.35" textLength="8" lengthAdjust="spacingAndGlyphs">M</text>
<text x="8.3" y="3.5" font-family="'Liberation Sans', sans-serif" font-size="7.3" textLength="13.3" lengthAdjust="spacingAndGlyphs" stroke="#111" stroke-width="0.2">200</text>
<text x="21.8" y="4" font-size="17" textLength="9.6" lengthAdjust="spacingAndGlyphs">/</text>
<text x="31.5" y="0" font-size="10.4" stroke="#111" stroke-width="0.35" textLength="8" lengthAdjust="spacingAndGlyphs">M</text>
<text x="39.6" y="4.6" font-size="6.4" stroke="#111" stroke-width="0.3">*</text>
</g>
</g>
<g font-family="'Liberation Sans', sans-serif" font-size="8.65" fill="#111">
<text x="77" y="15.20" fill="#f20a12" stroke="#f20a12" stroke-width="0.12">0.2&lt;z&lt;0.4</text>
<text x="77" y="26.45" fill="#0808f6" stroke="#0808f6" stroke-width="0.12">0.4&lt;z&lt;0.6</text>
<text x="77" y="37.70" fill="#111" stroke="#111" stroke-width="0.12">COSMOS: 0.22&lt;z&lt;0.48</text>
<text x="77" y="48.95" fill="#111" stroke="#111" stroke-width="0.12">COSMOS: 0.48&lt;z&lt;0.74</text>
<text x="77" y="60.20" fill="#111" stroke="#111" stroke-width="0.12">SDSS early</text>
<text x="77" y="71.45" fill="#111" stroke="#111" stroke-width="0.12">SDSS late</text>
<text x="77" y="82.70" fill="#111" stroke="#111" stroke-width="0.12">CFHTLenS red H15</text>
<text x="77" y="93.95" fill="#111" stroke="#111" stroke-width="0.12">CFHTLenS blue H15</text>
<text x="77" y="105.20" fill="#111" stroke="#111" stroke-width="0.12">GAMA</text>
<text x="77" y="116.45" fill="#111" stroke="#111" stroke-width="0.12">COSMOS: X-ray clusters</text>
<path d="M50.6,12.25 H61" stroke="#f20a12" stroke-width="1" opacity="0.75"/><circle cx="55.70" cy="12.25" r="2.9" fill="#f20a12"/>
<path d="M50.6,23.50 H61" stroke="#0808f6" stroke-width="1" opacity="0.75"/><circle cx="55.70" cy="23.50" r="2.9" fill="#0808f6"/>
<path d="M56,34.75 h5.2 M64.8,34.75 h1.3" stroke="#f20a12" stroke-width="1" opacity="0.8"/>
<path d="M56,46.00 h5.2 M64.8,46.00 h1.3" stroke="#0808f6" stroke-width="1" opacity="0.8"/>
<rect x="53.60" y="55.15" width="4.2" height="4.2" fill="#f20a12"/>
<rect x="53.60" y="66.40" width="4.2" height="4.2" fill="#0808f6"/>
<circle cx="55.70" cy="79.75" r="2.75" fill="none" stroke="#f20a12" stroke-width="1"/>
<circle cx="55.70" cy="91.00" r="2.75" fill="none" stroke="#0808f6" stroke-width="1"/>
<rect x="53.90" y="100.45" width="3.6" height="3.6" fill="none" stroke="#18ea18" stroke-width="1.1"/>
<rect x="53.90" y="111.70" width="3.6" height="3.6" fill="none" stroke="#222" stroke-width="1.1"/>
</g>
</svg>
</body></html>
